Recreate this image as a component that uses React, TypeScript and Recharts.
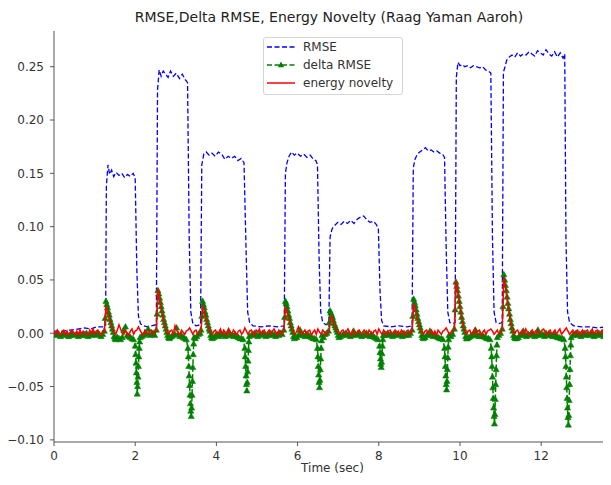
import React from 'react';
import { LineChart, Line, XAxis, YAxis, Legend } from 'recharts';

const FONT = '"DejaVu Sans", Verdana, sans-serif';
const AXIS = '#555';
const TEXT = '#333';
const BLUE = '#0000ff';
const GREEN = '#008000';
const RED = '#ff0000';

// RMSE envelope: [time (s), value]
const rmse: [number, number][] = [
  [0, 0.002], [0.2, 0.002], [0.4, 0.003], [0.6, 0.004], [0.75, 0.005], [0.9, 0.004], [1.05, 0.006], [1.2, 0.006], [1.27, 0.007],
  [1.29, 0.138], [1.33, 0.158], [1.37, 0.149], [1.42, 0.153], [1.47, 0.147], [1.53, 0.151], [1.6, 0.148], [1.67, 0.15], [1.74, 0.146], [1.81, 0.149], [1.88, 0.147], [1.95, 0.15], [2.0, 0.146],
  [2.04, 0.06], [2.08, 0.016], [2.13, 0.009], [2.2, 0.007], [2.3, 0.006], [2.4, 0.007], [2.52, 0.008],
  [2.55, 0.228], [2.59, 0.247], [2.64, 0.241], [2.69, 0.246], [2.75, 0.243], [2.81, 0.24], [2.87, 0.246], [2.94, 0.241], [3.01, 0.244], [3.09, 0.239], [3.16, 0.243], [3.23, 0.238], [3.29, 0.235],
  [3.33, 0.09], [3.37, 0.02], [3.42, 0.009], [3.5, 0.007], [3.61, 0.008],
  [3.64, 0.158], [3.69, 0.168], [3.75, 0.17], [3.82, 0.167], [3.89, 0.169], [3.97, 0.166], [4.05, 0.17], [4.13, 0.168], [4.21, 0.163], [4.29, 0.166], [4.37, 0.164], [4.45, 0.166], [4.53, 0.162], [4.61, 0.164], [4.68, 0.16],
  [4.73, 0.08], [4.77, 0.02], [4.82, 0.01], [4.9, 0.007], [5.1, 0.006], [5.3, 0.007], [5.5, 0.006], [5.67, 0.007],
  [5.7, 0.15], [5.74, 0.16], [5.79, 0.166], [5.85, 0.17], [5.92, 0.167], [5.99, 0.169], [6.07, 0.166], [6.15, 0.168], [6.23, 0.165], [6.31, 0.167], [6.39, 0.163], [6.45, 0.162], [6.49, 0.158],
  [6.53, 0.07], [6.57, 0.02], [6.62, 0.01], [6.7, 0.008], [6.77, 0.009],
  [6.8, 0.09], [6.85, 0.098], [6.91, 0.101], [6.99, 0.104], [7.07, 0.102], [7.15, 0.105], [7.23, 0.103], [7.31, 0.106], [7.39, 0.103], [7.47, 0.107], [7.55, 0.109], [7.63, 0.11], [7.71, 0.106], [7.79, 0.104], [7.87, 0.105], [7.94, 0.102], [7.99, 0.098],
  [8.03, 0.04], [8.07, 0.012], [8.12, 0.007], [8.3, 0.006], [8.5, 0.007], [8.7, 0.006], [8.82, 0.007],
  [8.85, 0.155], [8.89, 0.163], [8.95, 0.168], [9.01, 0.17], [9.08, 0.172], [9.15, 0.174], [9.22, 0.171], [9.29, 0.172], [9.36, 0.17], [9.43, 0.171], [9.5, 0.169], [9.57, 0.168], [9.62, 0.165],
  [9.66, 0.08], [9.7, 0.02], [9.75, 0.01], [9.82, 0.009], [9.88, 0.01],
  [9.91, 0.24], [9.95, 0.254], [10.0, 0.251], [10.06, 0.252], [10.12, 0.25], [10.19, 0.251], [10.26, 0.249], [10.33, 0.251], [10.4, 0.25], [10.48, 0.249], [10.56, 0.25], [10.63, 0.247], [10.7, 0.246], [10.76, 0.244],
  [10.8, 0.09], [10.84, 0.02], [10.89, 0.01], [10.96, 0.009], [11.04, 0.01],
  [11.07, 0.245], [11.11, 0.25], [11.15, 0.256], [11.21, 0.259], [11.28, 0.261], [11.35, 0.259], [11.42, 0.263], [11.49, 0.26], [11.56, 0.262], [11.63, 0.261], [11.7, 0.264], [11.77, 0.262], [11.84, 0.26], [11.91, 0.265], [11.98, 0.263], [12.05, 0.261], [12.12, 0.266], [12.19, 0.262], [12.26, 0.26], [12.33, 0.264], [12.4, 0.259], [12.47, 0.263], [12.54, 0.258], [12.58, 0.262],
  [12.61, 0.09], [12.65, 0.02], [12.7, 0.01], [12.8, 0.007], [13.0, 0.006], [13.2, 0.006], [13.4, 0.005], [13.6, 0.006], [13.72, 0.006],
];

// Frame segments: [start time (s), hop (s), values in thousandths]
type Segment = [number, number, number[]];
const MILLI = 1000;

const deltaRmse: Segment[] = [
  [0, 0.04, [-1, -2, 0, -1, -3, -1, 0, -2, -1, -3, -2, 0, -1, -2, -1, -3, 0, -2, -1, -2, 0, -3, -1, -2, 1, -1, -2, 0, -1, -3, -1]],
  [1.24, 0.02, [2, 14, 30, 27, 24, 20, 17, 13, 10, 7, 4, 1, -3, -5, -6, -5, -4]],
  [1.6, 0.04, [-5, -6, -4, 3, 6, -2, -3, -4, -5, -6]],
  [2.0, 0.01, [-12, -20, -28, -37, -46, -57, -50, -41, -31, -22, -14, -8, -4]],
  [2.16, 0.04, [-3, -2, 0, -1, 4, -2, -1, 0, -2]],
  [2.52, 0.02, [3, 18, 40, 37, 33, 29, 25, 21, 17, 13, 10, 7, 4, 1, -2, -4, -5, -4]],
  [2.9, 0.04, [-3, -2, -1, 5, -1, -3, -2, -4, -5, -6]],
  [3.3, 0.01, [-14, -22, -31, -40, -49, -58, -66, -73, -78, -70, -58, -45, -32, -20, -10, -4]],
  [3.48, 0.04, [-5, -3, -1, 0]],
  [3.62, 0.02, [3, 16, 30, 27, 24, 20, 17, 13, 10, 7, 4, 2, -2, -4, -5]],
  [3.94, 0.04, [-4, -2, -1, -3, 0, -2, -1, -3, -2, 2, -1, -2, -3, -1, -3, -4, -5, -5, -6]],
  [4.7, 0.01, [-14, -22, -31, -40, -48, -54, -46, -36, -26, -16, -8, -3]],
  [4.86, 0.04, [-2, -1, 0, -2, -3, -1, -2, 0, -1, -3, -2, -1, 0, -2, -1, -3, -1, -2, 0, -1]],
  [5.66, 0.02, [3, 15, 30, 28, 25, 21, 17, 14, 10, 7, 4, 1, -3, -5, -4]],
  [5.98, 0.04, [-4, -2, 3, -1, -2, -3, -1, -2, -3, -4, -5, -5, -6]],
  [6.49, 0.01, [-14, -22, -31, -39, -46, -51, -44, -34, -24, -14, -7, -2]],
  [6.64, 0.04, [-4, -1, 0]],
  [6.76, 0.02, [2, 10, 21, 19, 17, 15, 12, 9, 7, 5, 3, 1, -2, -4]],
  [7.06, 0.04, [-3, -2, -1, 0, -2, -1, -3, -2, 2, -1, -2, 0, -1, -3, -2, -1, 0, -2, -3, -1, -3, -4, -5, -6]],
  [8.02, 0.01, [-12, -18, -24, -29, -32, -27, -19, -12, -6, -2]],
  [8.14, 0.04, [-2, -1, 0, -2, -1, -3, -2, 0, -1, -2, -1, -3, 0, -2, -1, -2, 0]],
  [8.82, 0.02, [3, 16, 32, 29, 26, 22, 18, 14, 11, 8, 5, 2, -2, -4, -5]],
  [9.14, 0.04, [-4, -2, -1, 2, -2, -3, -1, -3, -4, -5, -5, -6]],
  [9.62, 0.01, [-14, -22, -31, -40, -48, -53, -45, -34, -23, -13, -6, -2]],
  [9.78, 0.04, [-3, -1]],
  [9.86, 0.02, [4, 22, 48, 44, 40, 35, 30, 25, 20, 15, 11, 7, 4, 1, -3, -5, -5]],
  [10.22, 0.04, [-4, -3, -2, -1, 3, -2, -3, -1, -3, -3, -4, -5, -5, -6]],
  [10.77, 0.01, [-14, -22, -31, -41, -51, -61, -70, -78, -85, -76, -62, -48, -34, -21, -11, -4]],
  [10.96, 0.04, [-2, 0]],
  [11.04, 0.02, [4, 25, 55, 50, 45, 40, 34, 28, 23, 18, 13, 9, 5, 2, -2, -4, -5]],
  [11.4, 0.04, [-5, -4, -2, -1, 2, -2, -3, -1, -2, 0, -1, -3, -2, 3, -1, -2, -1, -3, 0, -2, -1, -2, -3, -1, -3, -4, -4, -5, -5, -6]],
  [12.59, 0.01, [-14, -22, -31, -41, -51, -61, -70, -79, -86, -77, -63, -48, -34, -21, -11, -4]],
  [12.78, 0.04, [-2, -1, 0, -2, -1, -3, -1, 0, -2, -1, -2, 0, -1, -3, -2, -1, 0, -2, -1, -3, -1, 0, -2, -1]],
];

const energyNovelty: Segment[] = [
  [0, 0.04, [2, -1, 3, 0, -2, 2, 3, -1, 2, -2, 1, 3, 0, -1, 2, -2, 3, -1, 2, 1, -1, -2, 3, 0, 4, -1, 2, 3, -1, -2, 2]],
  [1.24, 0.02, [1, 12, 26, 24, 20, 17, 14, 11, 8, 6, 4, 2, 1]],
  [1.52, 0.04, [-1, 3, 8, 4, 0, -1, 3, 0, -2, 2, 4, -1, 2, 3, 6, 3, 0, -2, 3, 1, -1, 2, 3, -1, 1]],
  [2.52, 0.02, [2, 20, 42, 38, 33, 28, 23, 19, 15, 11, 8, 5, 3, 1]],
  [2.82, 0.04, [-1, 2, 3, -1, 7, 3, 0, -2, 3, 1, -1, 2, 3, 5, 2, -1, 2, 3, -1, 1]],
  [3.62, 0.02, [2, 13, 26, 24, 21, 18, 15, 12, 9, 6, 4, 2, 1]],
  [3.9, 0.04, [-1, 2, 3, -1, 1, 4, -1, 3, 1, -2, 4, 1, -1, 3, 1, -2, 2, 3, -1, 1, 5, 2, -1, 2, 3, 0, -2, 3, 1, 4, -1, 2, 3, -1, 1, 3, -1, 2, 4, 1, -2, 3, 1, -1]],
  [5.66, 0.02, [2, 12, 25, 23, 20, 17, 14, 11, 8, 6, 4, 2, 1]],
  [5.94, 0.04, [-1, 2, 6, 2, -1, 1, 3, -1, 2, 3, -2, 1, 3, -1, 4, 1, -1, 3, 1, -2, 1]],
  [6.78, 0.02, [2, 9, 17, 15, 13, 11, 9, 7, 5, 3, 2, 1]],
  [7.04, 0.04, [-1, 2, 3, -1, 1, 4, 1, -2, 3, 1, -1, 2, 3, -1, 1, 3, 1, -2, 3, 1, -1, 2, 3, -1, 4, 1, -1, 3, 1, -2, 2, 3, -1, 1, 3, -1, 2, -1, 3, 1, -2, 2, 3, -1]],
  [8.82, 0.02, [2, 14, 28, 26, 22, 19, 16, 12, 9, 6, 4, 2, 1]],
  [9.1, 0.04, [-1, 2, 3, -1, 1, 3, -1, 2, -2, 3, 1, -1, 2, 3, 5, 2, -1, 1, 3]],
  [9.86, 0.02, [3, 24, 50, 46, 41, 36, 30, 25, 20, 15, 11, 7, 4, 2]],
  [10.16, 0.04, [-1, 2, 3, -1, 1, 4, -1, 2, 3, -2, 1, 3, -1, 2, 3, 4, 2, -1, 1, 3, -1, 1]],
  [11.04, 0.02, [3, 26, 53, 49, 44, 38, 32, 27, 22, 17, 12, 8, 5, 2]],
  [11.34, 0.04, [-1, 2, 3, -1, 1, 3, -1, 4, 1, -2, 1, 3, -1, 2, 3, -1, 1, 3, 4, 1, -2, 2, 3, -1, 1, 3, -1, 2, 4, -1, 1, 3, 5, 2, -1, 1, 3, -1, 2, 3, -2, 1, 3, -1, 2, 3, -1, 1, 4, -1, 2, 3, -1, 1, 3, -2, 2, 3, -1, 1]],
];

const xTicks = [0, 2, 4, 6, 8, 10, 12];
const yTicks = [-0.1, -0.05, 0, 0.05, 0.1, 0.15, 0.2, 0.25];
const X_DOMAIN: [number, number] = [0, 13.72];
const Y_DOMAIN: [number, number] = [-0.102, 0.2835];

const legendItems = [
  { label: 'RMSE', color: BLUE, dash: '5 2.5', marker: false },
  { label: 'delta RMSE', color: GREEN, dash: '5 2.5', marker: true },
  { label: 'energy novelty', color: RED, dash: undefined as string | undefined, marker: false },
];

type Point = { t: number; v: number };

const expand = (segments: Segment[]): Point[] =>
  segments
    .flatMap(([t0, hop, values]) =>
      values.map((v, i) => ({ t: Math.round((t0 + i * hop) * 1000) / 1000, v: v / MILLI }))
    )
    .sort((a, b) => a.t - b.t);

const formatY = (v: number) => v.toFixed(2).replace('-', '\u2212');

const Triangle = (props: any) => {
  const { cx, cy, index } = props;
  if (cx == null || cy == null) return <g key={`tri-${index}`} />;
  return (
    <polygon
      key={`tri-${index}`}
      points={`${cx},${cy - 3.4} ${cx - 3.1},${cy + 2.2} ${cx + 3.1},${cy + 2.2}`}
      fill={GREEN}
      stroke={GREEN}
      strokeWidth={0.5}
    />
  );
};

const LegendBox = () => (
  <div
    style={{
      boxSizing: 'border-box',
      width: 140,
      height: 58,
      border: '1px solid #d4d4d4',
      borderRadius: 3,
      background: 'rgba(255,255,255,0.85)',
      fontFamily: FONT,
      fontSize: 12,
      color: TEXT,
    }}
  >
    {legendItems.map((item) => (
      <div key={item.label} style={{ display: 'flex', alignItems: 'center', height: 18 }}>
        <svg width={28} height={10} style={{ marginLeft: 3, flex: 'none' }}>
          <line x1={0} y1={5} x2={28} y2={5} stroke={item.color} strokeWidth={1.5} strokeDasharray={item.dash} />
          {item.marker && <polygon points="14,1.6 10.9,7.2 17.1,7.2" fill={item.color} />}
        </svg>
        <span style={{ marginLeft: 8, whiteSpace: 'nowrap', lineHeight: '18px' }}>{item.label}</span>
      </div>
    ))}
  </div>
);

export default function App() {
  const rmseData: Point[] = rmse.map(([t, v]) => ({ t, v }));
  const deltaData = expand(deltaRmse);
  const noveltyData = expand(energyNovelty);
  const tickStyle = { fontSize: 12, fill: TEXT, fontFamily: FONT };

  return (
    <div style={{ position: 'relative', width: 603, height: 469, fontFamily: FONT }}>
      <div
        style={{
          position: 'absolute',
          left: 71,
          width: 500,
          top: 1,
          textAlign: 'center',
          fontSize: 14,
          lineHeight: '16px',
          color: '#222',
          whiteSpace: 'nowrap',
        }}
      >
        RMSE,Delta RMSE, Energy Novelty (Raag Yaman Aaroh)
      </div>
      <LineChart width={603} height={469} margin={{ top: 23, right: 0, bottom: 5, left: 0 }}>
        <XAxis
          xAxisId="top"
          orientation="top"
          type="number"
          domain={X_DOMAIN}
          allowDataOverflow
          height={0}
          tick={false}
          tickLine={false}
          axisLine={{ stroke: AXIS, strokeWidth: 1 }}
        />
        <XAxis
          dataKey="t"
          type="number"
          domain={X_DOMAIN}
          allowDataOverflow
          ticks={xTicks}
          interval={0}
          height={30}
          tickSize={4}
          tickMargin={5}
          tick={tickStyle}
          tickLine={{ stroke: AXIS }}
          axisLine={{ stroke: AXIS, strokeWidth: 1 }}
          label={{ value: 'Time (sec)', position: 'insideBottom', offset: 0, fontSize: 12, fill: TEXT, fontFamily: FONT }}
        />
        <YAxis
          type="number"
          domain={Y_DOMAIN}
          allowDataOverflow
          ticks={yTicks}
          interval={0}
          width={46}
          tickSize={4}
          tickMargin={6}
          tick={tickStyle}
          tickFormatter={formatY}
          tickLine={{ stroke: AXIS }}
          axisLine={{ stroke: AXIS, strokeWidth: 1 }}
        />
        <Line
          data={rmseData}
          dataKey="v"
          name="RMSE"
          type="linear"
          stroke={BLUE}
          strokeWidth={1.3}
          strokeDasharray="5 2.5"
          dot={false}
          activeDot={false}
          isAnimationActive={false}
        />
        <Line
          data={deltaData}
          dataKey="v"
          name="delta RMSE"
          type="linear"
          stroke={GREEN}
          strokeWidth={1.5}
          strokeDasharray="5 2.5"
          dot={Triangle}
          activeDot={false}
          isAnimationActive={false}
        />
        <Line
          {...({ zIndex: 1200 } as any)}
          data={noveltyData}
          dataKey="v"
          name="energy novelty"
          type="linear"
          stroke={RED}
          strokeWidth={1.5}
          dot={false}
          activeDot={false}
          isAnimationActive={false}
        />
        <Legend
          layout="horizontal"
          verticalAlign="middle"
          align="center"
          wrapperStyle={{ left: 255, top: 29, width: 140, height: 58 }}
          content={() => <LegendBox />}
        />
      </LineChart>
    </div>
  );
}
